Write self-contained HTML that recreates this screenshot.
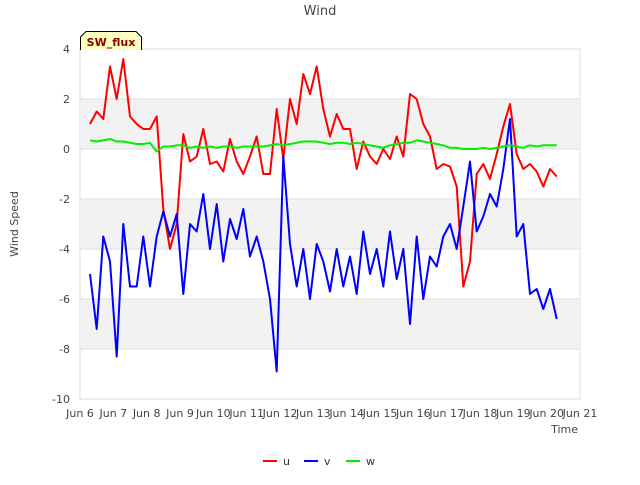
<!DOCTYPE html>
<html><head><meta charset="utf-8"><style>
body{margin:0;background:#fff;font-family:"Liberation Sans","DejaVu Sans",sans-serif}
svg text{font-family:"DejaVu Sans","Liberation Sans",sans-serif}
</style></head><body>
<svg id="c" width="640" height="480">
<text x="320" y="15" text-anchor="middle" font-size="13" fill="#444">Wind</text>
<g id="plot"></g>
<text transform="translate(18,224) rotate(-90)" text-anchor="middle" font-size="11" fill="#444">Wind Speed</text>
<text x="578" y="433" text-anchor="end" font-size="11" fill="#444">Time</text>
<g>
<g><line x1="263" y1="461" x2="277" y2="461" stroke="red" stroke-width="2"/><text x="283" y="465" font-size="11" fill="#333">u</text></g>
<g><line x1="304" y1="461" x2="318" y2="461" stroke="blue" stroke-width="2"/><text x="324" y="465" font-size="11" fill="#333">v</text></g>
<g><line x1="346" y1="461" x2="360" y2="461" stroke="#00ee00" stroke-width="2"/><text x="366" y="465" font-size="11" fill="#333">w</text></g>
</g>
<g>
<path d="M80.5,50 L80.5,37 L86,31.5 L136,31.5 L141.5,37 L141.5,50" fill="#ffffc0" stroke="#000"/>
<text x="111" y="46" text-anchor="middle" font-size="11" font-weight="bold" fill="#8b0000">SW_flux</text>
</g>
</svg>
<script>
const xTicks=[6,7,8,9,10,11,12,13,14,15,16,17,18,19,20,21];
const yTicks=[-10,-8,-6,-4,-2,0,2,4];
const tStart=6.3, tStep=0.2;
const uVals=[1.0,1.5,1.2,3.3,2.0,3.6,1.3,1.0,0.8,0.8,1.3,-2.4,-4.0,-3.0,0.6,-0.5,-0.3,0.8,-0.6,-0.5,-0.9,0.4,-0.5,-1.0,-0.3,0.5,-1.0,-1.0,1.6,-0.4,2.0,1.0,3.0,2.2,3.3,1.6,0.5,1.4,0.8,0.8,-0.8,0.3,-0.3,-0.6,0,-0.4,0.5,-0.3,2.2,2.0,1.0,0.5,-0.8,-0.6,-0.7,-1.5,-5.5,-4.5,-1.0,-0.6,-1.2,-0.2,0.9,1.8,-0.2,-0.8,-0.6,-0.9,-1.5,-0.8,-1.1];
const vVals=[-5.0,-7.2,-3.5,-4.5,-8.3,-3.0,-5.5,-5.5,-3.5,-5.5,-3.5,-2.5,-3.5,-2.6,-5.8,-3.0,-3.3,-1.8,-4.0,-2.2,-4.5,-2.8,-3.6,-2.4,-4.3,-3.5,-4.5,-6.0,-8.9,-0.3,-3.8,-5.5,-4.0,-6.0,-3.8,-4.5,-5.7,-4.0,-5.5,-4.3,-5.8,-3.3,-5.0,-4.0,-5.5,-3.3,-5.2,-4.0,-7.0,-3.5,-6.0,-4.3,-4.7,-3.5,-3.0,-4.0,-2.3,-0.5,-3.3,-2.7,-1.8,-2.3,-0.8,1.2,-3.5,-3.0,-5.8,-5.6,-6.4,-5.6,-6.8];
const wVals=[0.35,0.3,0.35,0.4,0.3,0.3,0.25,0.2,0.2,0.25,-0.1,0.1,0.1,0.15,0.15,0.05,0.1,0.05,0.1,0.05,0.1,0.1,0.05,0.1,0.1,0.1,0.1,0.15,0.2,0.15,0.2,0.25,0.3,0.3,0.3,0.25,0.2,0.25,0.25,0.2,0.25,0.2,0.15,0.1,0.05,0.15,0.2,0.25,0.25,0.35,0.3,0.25,0.2,0.15,0.05,0.05,0.0,0.0,0.0,0.05,0.0,0.05,0.1,0.15,0.1,0.05,0.15,0.1,0.15,0.15,0.15];
const NS='http://www.w3.org/2000/svg';
const X0=80,X1=580,Y0=49,Y1=399;
function xs(d){return X0+(d-6)/15*(X1-X0);}
function ys(v){return Y0+(4-v)/14*(Y1-Y0);}
const g=document.getElementById('plot');
function el(t,a){const e=document.createElementNS(NS,t);for(const k in a)e.setAttribute(k,a[k]);g.appendChild(e);return e;}
const bg=el('rect',{x:X0,y:Y0,width:X1-X0,height:Y1-Y0,fill:'#fff',stroke:'#ddd'});


[[2,0],[-2,-4],[-6,-8]].forEach(b=>{
 const r=el('rect',{x:X0,y:ys(b[0]),width:X1-X0,height:ys(b[1])-ys(b[0]),fill:'#f2f2f2'});
 
 
});
yTicks.forEach(v=>{
 const l=el('line',{x1:X0,x2:X1,y1:ys(v),y2:ys(v),stroke:'#ddd'});
 
 
 const t=el('text',{x:X0-10,y:ys(v)+4,'text-anchor':'end','font-size':11,fill:'#444'});
 t.textContent=v;
 
 
});
xTicks.forEach(d=>{
 const t=el('text',{x:xs(d),y:417,'text-anchor':'middle','font-size':11,fill:'#444'});
 t.textContent='Jun '+d;
 
 
});
function line(vals,col,name){
 const p=vals.map((v,i)=>xs(tStart+i*tStep).toFixed(1)+','+ys(v).toFixed(1)).join(' ');
 const e=el('polyline',{points:p,fill:'none',stroke:col,'stroke-width':2,'stroke-linejoin':'round'});
 
 
}
line(uVals,'red','series-u');
line(vVals,'blue','series-v');
line(wVals,'#00ee00','series-w');
</script>
</body></html>
